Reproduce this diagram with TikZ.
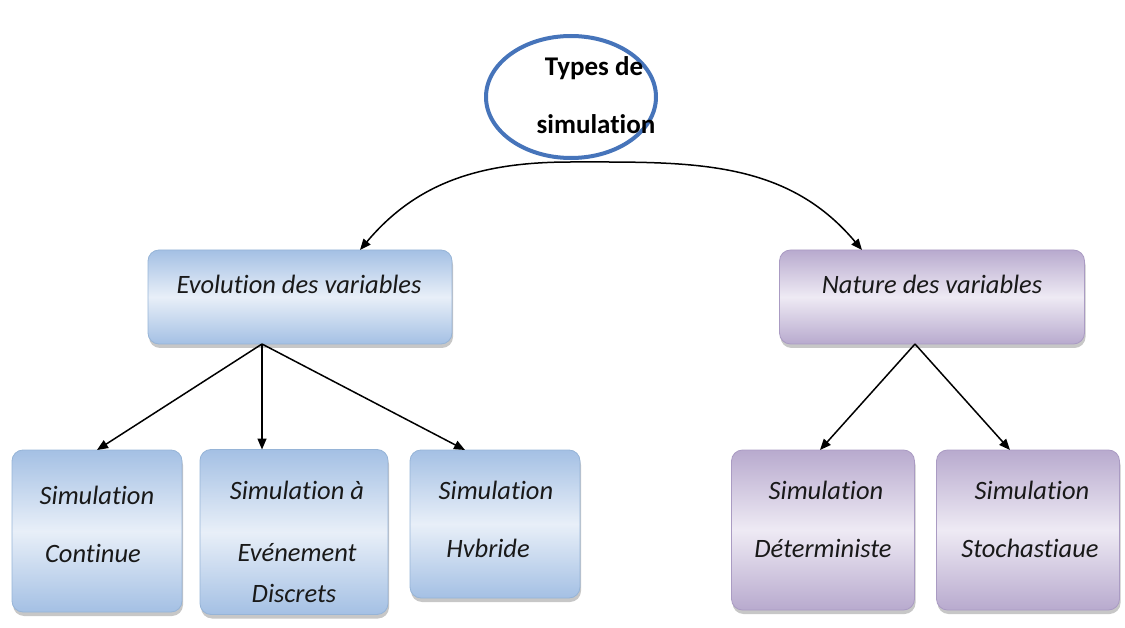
\documentclass[tikz,border=0pt]{standalone}
\usepackage{fontspec}
\setmainfont[Ligatures=NoCommon]{Carlito}
\usetikzlibrary{arrows.meta,shadows,shapes.geometric,calc}
\definecolor{ovalblue}{RGB}{70,116,186}
\definecolor{bluedark}{RGB}{164,192,228}
\definecolor{bluelight}{RGB}{232,239,248}
\definecolor{blueedge}{RGB}{150,180,215}
\definecolor{purpdark}{RGB}{184,170,206}
\definecolor{purplight}{RGB}{238,234,244}
\definecolor{purpedge}{RGB}{170,155,195}
\begin{document}
\begin{tikzpicture}[x=1pt,y=-1pt,
  every node/.style={inner sep=0pt, outer sep=0pt},
  boxbase/.style={rectangle, rounded corners=11pt, line width=0.8pt,
    shading=axis, shading angle=25,
    drop shadow={shadow xshift=1pt, shadow yshift=-4pt, fill=gray!55, opacity=0.8}},
  bluebox/.style={boxbase, draw=blueedge, top color=bluedark, bottom color=bluedark, middle color=bluelight},
  purpbox/.style={boxbase, draw=purpedge, top color=purpdark, bottom color=purpdark, middle color=purplight},
  lbl/.style={font=\fontsize{26.5}{30}\selectfont\itshape, text=black!90},
  arr/.style={line width=1.5pt, -{Triangle[length=11pt,width=9pt]}}
]
\useasboundingbox (0,0) rectangle (1125,628);

% root ellipse
\node[ellipse, draw=ovalblue, line width=4pt, fill=white,
      minimum width=170pt, minimum height=122pt] (root) at (571,97) {};
\node[font=\fontsize{27}{30}\selectfont\bfseries] (rootA) at (594,68) {Types de};
\node[font=\fontsize{27}{30}\selectfont\bfseries] (rootB) at (596,124) {simulation};

% second level
\node[bluebox, minimum width=304pt, minimum height=94pt] (evo) at (300,297) {};
\node[lbl] (evoT) at (299,284) {Evolution des variables};
\node[purpbox, minimum width=305pt, minimum height=94pt] (nat) at (932,297) {};
\node[lbl] (natT) at (932,284) {Nature des variables};

% third level
\node[bluebox, minimum width=170pt, minimum height=162pt] (cont) at (97,531) {};
\node[lbl] (contA) at (97,495) {Simulation};
\node[lbl] (contB) at (93,553) {Continue};

\node[bluebox, minimum width=188pt, minimum height=165pt] (disc) at (294,532) {};
\node[lbl] (discA) at (297,490) {Simulation à};
\node[lbl] (discB) at (297,553) {Evénement};
\node[lbl] (discC) at (294,593) {Discrets};

\node[bluebox, minimum width=170pt, minimum height=148pt] (hyb) at (495,524) {};
\node[lbl] (hybA) at (496,490) {Simulation};
\node[lbl] (hybB) at (488,548) {Hvbride};

\node[purpbox, minimum width=183pt, minimum height=160pt] (det) at (823,530) {};
\node[lbl] (detA) at (826,490) {Simulation};
\node[lbl] (detB) at (823,548) {Déterministe};

\node[purpbox, minimum width=183pt, minimum height=160pt] (sto) at (1028,530) {};
\node[lbl] (stoA) at (1032,490) {Simulation};
\node[lbl] (stoB) at (1030,548) {Stochastiaue};

% connectors
\coordinate (rootbot) at ($(root.south)+(0,4)$);
\draw[arr] (rootbot) to[out=180,in=50] ($(evo.north)+(60,0)$);
\draw[arr] (rootbot) to[out=0,in=130] ($(nat.north)+(-70,0)$);

\coordinate (evoout) at ($(evo.south)+(-38,0)$);
\draw[arr] (evoout) -- (cont.north);
\draw[arr] (evoout) -- ($(disc.north)+(-32,0)$);
\draw[arr] (evoout) -- ($(hyb.north)+(-30,0)$);

\coordinate (natout) at ($(nat.south)+(-17,0)$);
\draw[arr] (natout) -- ($(det.north)+(-3,0)$);
\draw[arr] (natout) -- ($(sto.north)+(-18,0)$);
\end{tikzpicture}
\end{document}
